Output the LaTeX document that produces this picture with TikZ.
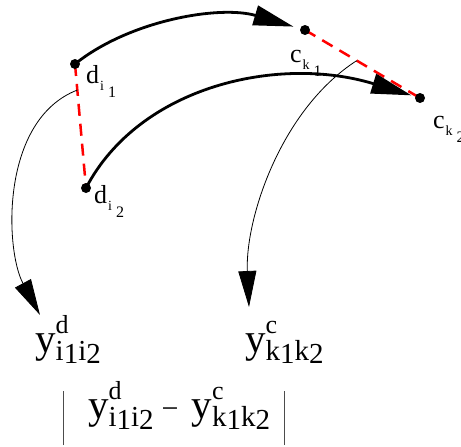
\documentclass[tikz,border=0pt]{standalone}
\usepackage{fontspec}
\setmainfont{Liberation Serif}
\usetikzlibrary{
	arrows.meta,
	calc
}
\definecolor{DashRed}{RGB}{255,0,0}
% Punkt mit doppeltem Index, z.B. d_{i_1}
\newcommand{\ptname}[3]{#1\hspace{1pt}\raisebox{-7pt}{\fontsize{14}{14}\selectfont #2\hspace{4pt}\raisebox{-7pt}{\fontsize{16}{16}\selectfont #3}}}
% y mit Hoch- und Tiefindex, z.B. y^d_{i_1 i_2}
\newcommand{\yname}[5]{y\rlap{\raisebox{19pt}{\fontsize{26}{26}\selectfont #1}}\raisebox{-8pt}{\fontsize{29}{29}\selectfont #2\raisebox{-3pt}{#3}#4\raisebox{-3pt}{#5}}}
\newcommand{\absbar}{\raisebox{-27pt}{\color{black!70}\rule{0.9pt}{54pt}}}

\begin{document}
\begin{tikzpicture}[x=1pt, y=-1pt,
		lab/.style={inner sep=0pt, anchor=base west, font=\fontsize{26}{30}\selectfont},
		ylab/.style={inner sep=0pt, anchor=base west, font=\fontsize{41}{44}\selectfont},
		pairline/.style={DashRed, line width=2.5pt, dash pattern=on 12pt off 8pt},
		maparrow/.style={line width=2.8pt, -{Triangle[length=40pt,width=20pt]}},
		distarrow/.style={line width=0.8pt, -{Triangle[length=36pt,width=18pt]}}]
	\useasboundingbox (0,0) rectangle (461,447);
	
	\coordinate (D1) at (75,64);
	\coordinate (D2) at (86,188);
	\coordinate (C1) at (305,30);
	\coordinate (C2) at (420,98);
	
	% Abstaende der Paare
	\draw[pairline] (D1) -- (D2);
	\draw[pairline] (C1) -- (C2);
	
	% Zuordnung d -> c
	\draw[maparrow, shorten >=12pt] (D1) .. controls (130,20) and (220,5) .. (C1);
	\draw[maparrow, shorten >=9pt] (D2) .. controls (140,85) and (280,55) .. (C2);
	
	\fill (D1) circle (5pt);
	\fill (D2) circle (5pt);
	\fill (C1) circle (5pt);
	\fill (C2) circle (5pt);
	
	\node[lab] (d1) at (86,83) {\ptname{d}{i}{1}};
	\node[lab] (d2) at (94,203) {\ptname{d}{i}{2}};
	\node[lab] (c1) at (290,62) {\ptname{c}{k}{1}};
	\node[lab] (c2) at (433,128) {\ptname{c}{k}{2}};
	
	\node[ylab] (yd) at (35,352) {\yname{d}{i}{1}{i}{2}};
	\node[ylab] (yc) at (245,352) {\yname{c}{k}{1}{k}{2}};
	\node[ylab] (diff) at (63,418) {\absbar\hspace{24pt}\yname{d}{i}{1}{i}{2}\hspace{8pt}{\fontsize{30}{30}\selectfont −}\hspace{13pt}\yname{c}{k}{1}{k}{2}\hspace{14pt}\absbar};
	
	% Abstaende -> y
	\coordinate (P1) at ($(D1)!0.21!(D2)$);
	\coordinate (P2) at ($(C1)!0.45!(C2)$);
	\coordinate (T1) at (40,315);
	\coordinate (T2) at (249,307);
	\draw[distarrow] (P1) .. controls (0,120) and (5,250) .. (T1);
	\draw[distarrow] (P2) .. controls (280,110) and (245,220) .. (T2);
\end{tikzpicture}
\end{document}
